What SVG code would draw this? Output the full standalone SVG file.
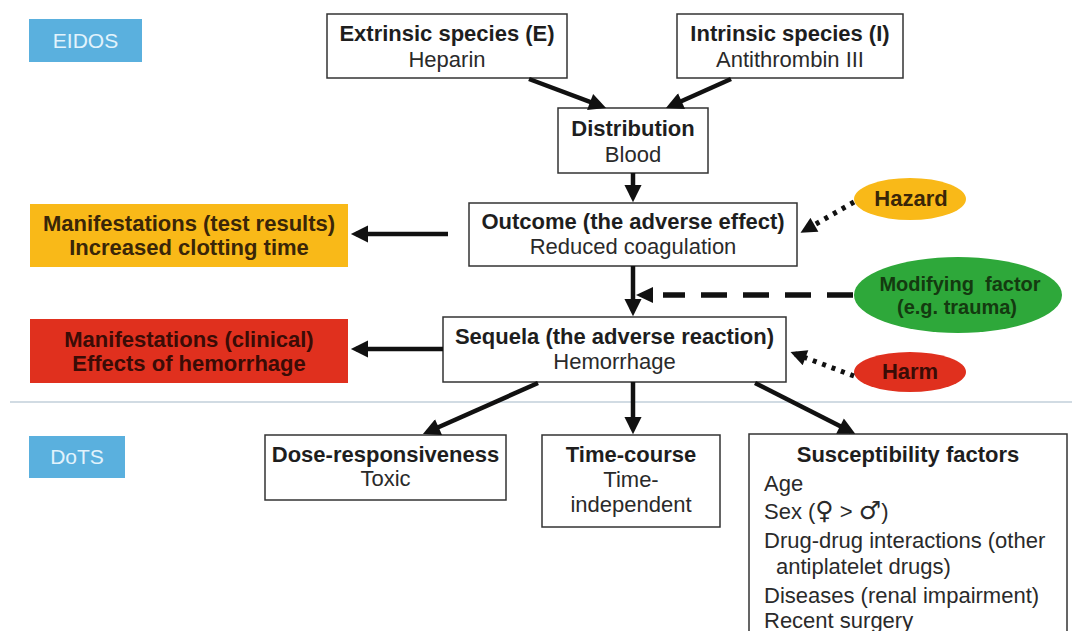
<svg xmlns="http://www.w3.org/2000/svg" width="1072" height="631" viewBox="0 0 1072 631">
<style>
.box{fill:#fff;stroke:#333;stroke-width:1.5}
.tag{fill:#5ab0de}
.tagt{font-family:"Liberation Sans",Arial,sans-serif;font-size:21px;fill:#e2f3fc;text-anchor:middle}
.b{font-family:"Liberation Sans",Arial,sans-serif;font-size:22px;font-weight:bold;fill:#1e1e1e;text-anchor:middle}
.r{font-family:"Liberation Sans",Arial,sans-serif;font-size:22px;fill:#2a2a2a;text-anchor:middle}
.l{font-family:"Liberation Sans","DejaVu Sans",Arial,sans-serif;font-size:22px;fill:#2a2a2a}
.sym{font-family:"DejaVu Sans",sans-serif;font-size:25px}
.my{font-family:"Liberation Sans",Arial,sans-serif;font-size:22px;font-weight:bold;fill:#3a2608;text-anchor:middle}
.mr{font-family:"Liberation Sans",Arial,sans-serif;font-size:22px;font-weight:bold;fill:#3a0c06;text-anchor:middle}
.mg{font-family:"Liberation Sans",Arial,sans-serif;font-size:20px;font-weight:bold;fill:#143a10;text-anchor:middle}
.a{stroke:#111;stroke-width:4.5;fill:none;marker-end:url(#ah)}
.dot{stroke:#111;stroke-width:5;fill:none;stroke-dasharray:4 6;marker-end:url(#ah2)}
.dash{stroke:#111;stroke-width:5.5;fill:none;stroke-dasharray:26 16}
</style>
<defs>
<marker id="ah" viewBox="0 0 10 10" refX="7" refY="5" markerWidth="4" markerHeight="3.8" markerUnits="strokeWidth" orient="auto">
<path d="M0,0 L10,5 L0,10 Z" fill="#111"/>
</marker>
<marker id="ah2" viewBox="0 0 10 10" refX="7" refY="5" markerWidth="3.6" markerHeight="3.2" markerUnits="strokeWidth" orient="auto">
<path d="M0,0 L10,5 L0,10 Z" fill="#111"/>
</marker>
</defs>
<rect width="1072" height="631" fill="#fff"/>
<line x1="10" y1="402" x2="1072" y2="402" stroke="#c2cfda" stroke-width="1.3"/>
<g id="eidos"><rect class="tag" x="29" y="19" width="113" height="43"/><text class="tagt" x="85.5" y="48">EIDOS</text></g>
<g id="dots"><rect class="tag" x="29" y="436" width="96" height="42"/><text class="tagt" x="77" y="464">DoTS</text></g>
<g id="extrinsic"><rect class="box" x="327" y="14" width="240" height="64"/><text class="b" x="447" y="41">Extrinsic species (E)</text><text class="r" x="447" y="67">Heparin</text></g>
<g id="intrinsic"><rect class="box" x="677" y="14" width="226" height="64"/><text class="b" x="790" y="41">Intrinsic species (I)</text><text class="r" x="790" y="67">Antithrombin III</text></g>
<g id="distribution"><rect class="box" x="558" y="108" width="150" height="65"/><text class="b" x="633" y="136">Distribution</text><text class="r" x="633" y="162">Blood</text></g>
<g id="outcome"><rect class="box" x="469" y="203" width="328" height="63"/><text class="b" x="633" y="229">Outcome (the adverse effect)</text><text class="r" x="633" y="254">Reduced coagulation</text></g>
<g id="sequela"><rect class="box" x="443" y="317" width="343" height="65"/><text class="b" x="614.5" y="344">Sequela (the adverse reaction)</text><text class="r" x="614.5" y="369">Hemorrhage</text></g>
<g id="manif-test"><rect x="30" y="204" width="318" height="63" fill="#f9b918"/><text class="my" x="189" y="231">Manifestations (test results)</text><text class="my" x="189" y="255">Increased clotting time</text></g>
<g id="manif-clin"><rect x="30" y="319" width="318" height="64" fill="#e0301e"/><text class="mr" x="189" y="347">Manifestations (clinical)</text><text class="mr" x="189" y="371">Effects of hemorrhage</text></g>
<g id="hazard"><ellipse cx="910" cy="199" rx="56" ry="21" fill="#f9b918"/><text class="my" x="911" y="206">Hazard</text></g>
<g id="modifying"><ellipse cx="958" cy="295" rx="104" ry="38" fill="#2ea83a"/><text class="mg" x="960" y="291" xml:space="preserve">Modifying  factor</text><text class="mg" x="957" y="314">(e.g. trauma)</text></g>
<g id="harm"><ellipse cx="910" cy="372" rx="56" ry="20" fill="#e0301e"/><text class="mr" x="910" y="379">Harm</text></g>
<g id="dose"><rect class="box" x="265" y="435" width="241" height="65"/><text class="b" x="385.5" y="462">Dose-responsiveness</text><text class="r" x="385.5" y="486">Toxic</text></g>
<g id="timecourse"><rect class="box" x="542" y="435" width="178" height="92"/><text class="b" x="631" y="462">Time-course</text><text class="r" x="631" y="487">Time-</text><text class="r" x="631" y="512">independent</text></g>
<g id="susceptibility"><rect class="box" x="749" y="434" width="318" height="210"/><text class="b" x="908" y="462">Susceptibility factors</text>
<text class="l" x="764" y="491">Age</text>
<text class="l" x="764" y="519">Sex (<tspan class="sym">♀</tspan> &gt; <tspan class="sym">♂</tspan>)</text>
<text class="l" x="764" y="548">Drug-drug interactions (other</text>
<text class="l" x="776" y="574">antiplatelet drugs)</text>
<text class="l" x="764" y="603">Diseases (renal impairment)</text>
<text class="l" x="764" y="628">Recent surgery</text></g>
<g id="connectors">
<line class="a" x1="529" y1="79" x2="601.3" y2="106.2"/>
<line class="a" x1="731" y1="79" x2="670.6" y2="106"/>
<line class="a" x1="633" y1="173" x2="633" y2="197"/>
<line class="a" x1="448" y1="234" x2="356" y2="234"/>
<line class="a" x1="633" y1="266" x2="633" y2="311"/>
<line class="a" x1="443" y1="349" x2="356" y2="349"/>
<line class="a" x1="538" y1="383" x2="427.6" y2="432"/>
<line class="a" x1="633" y1="382" x2="633" y2="429"/>
<line class="a" x1="755" y1="383" x2="850.7" y2="431.5"/>
<line class="dot" x1="854" y1="202" x2="804.7" y2="230.4"/>
<line class="dot" x1="854" y1="376" x2="795" y2="353.8"/>
<line class="dash" x1="853" y1="295" x2="663" y2="295"/>
<polygon points="636,295 653,287 653,303" fill="#111"/>
</g>
</svg>
